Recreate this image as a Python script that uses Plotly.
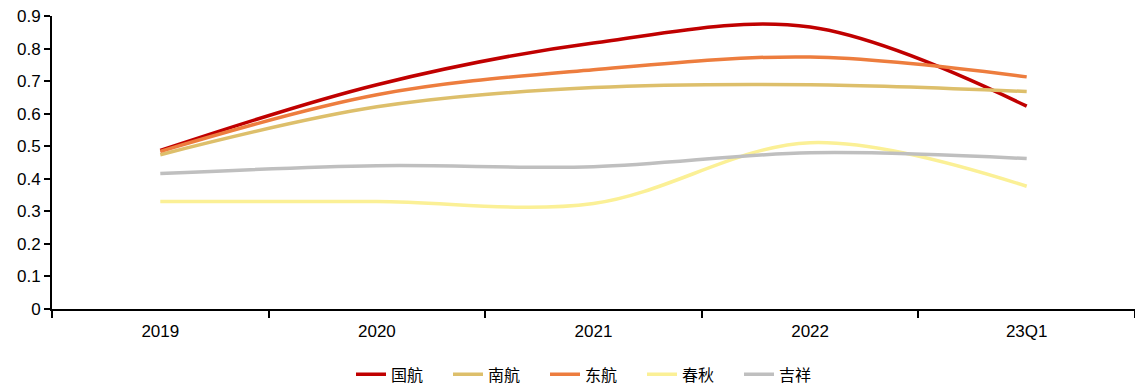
import plotly.graph_objects as go

categories = ["2019", "2020", "2021", "2022", "23Q1"]
guohang = [0.487, 0.689, 0.817, 0.866, 0.623]
nanhang = [0.474, 0.621, 0.680, 0.689, 0.668]
donghang = [0.484, 0.658, 0.735, 0.774, 0.713]
chunqiu = [0.330, 0.330, 0.324, 0.511, 0.377]
jixiang = [0.416, 0.440, 0.437, 0.480, 0.462]

series = [
    ("国航", guohang, "#C00000"),
    ("南航", nanhang, "#DDBF6B"),
    ("东航", donghang, "#ED7D3E"),
    ("春秋", chunqiu, "#FBF096"),
    ("吉祥", jixiang, "#BFBFBF"),
]

fig = go.Figure()
for name, vals, color in series:
    fig.add_trace(go.Scatter(
        x=categories, y=vals, name=name, mode="lines",
        line=dict(color=color, width=3.5, shape="spline", smoothing=1.0),
    ))

fig.update_layout(
    width=1135, height=388,
    margin=dict(l=52, r=0, t=16, b=79, autoexpand=False),
    paper_bgcolor="white", plot_bgcolor="white",
    font=dict(family="Liberation Sans, Arial, sans-serif", size=17, color="black"),
    showlegend=True,
    legend=dict(orientation="h", x=0.5, xanchor="center", yref="container",
                y=0.035, yanchor="middle",
                font=dict(family="Noto Sans CJK SC", size=16),
                entrywidth=52, entrywidthmode="pixels",
                traceorder="normal"),
    xaxis=dict(type="category", range=[-0.5, 4.5], showline=True, linecolor="black",
               linewidth=2, ticks="outside", tickson="boundaries", ticklen=7,
               tickcolor="black", tickwidth=1.5, showgrid=False, zeroline=False,
               ticklabelstandoff=6, tickfont=dict(size=17)),
    yaxis=dict(range=[0, 0.9], dtick=0.1, showline=True, linecolor="black", linewidth=2,
               ticks="outside", ticklen=6, tickcolor="black", tickwidth=1.5,
               showgrid=False, zeroline=False, tickformat="~g",
               tickfont=dict(size=17)),
)

fig.write_html("out.html")
